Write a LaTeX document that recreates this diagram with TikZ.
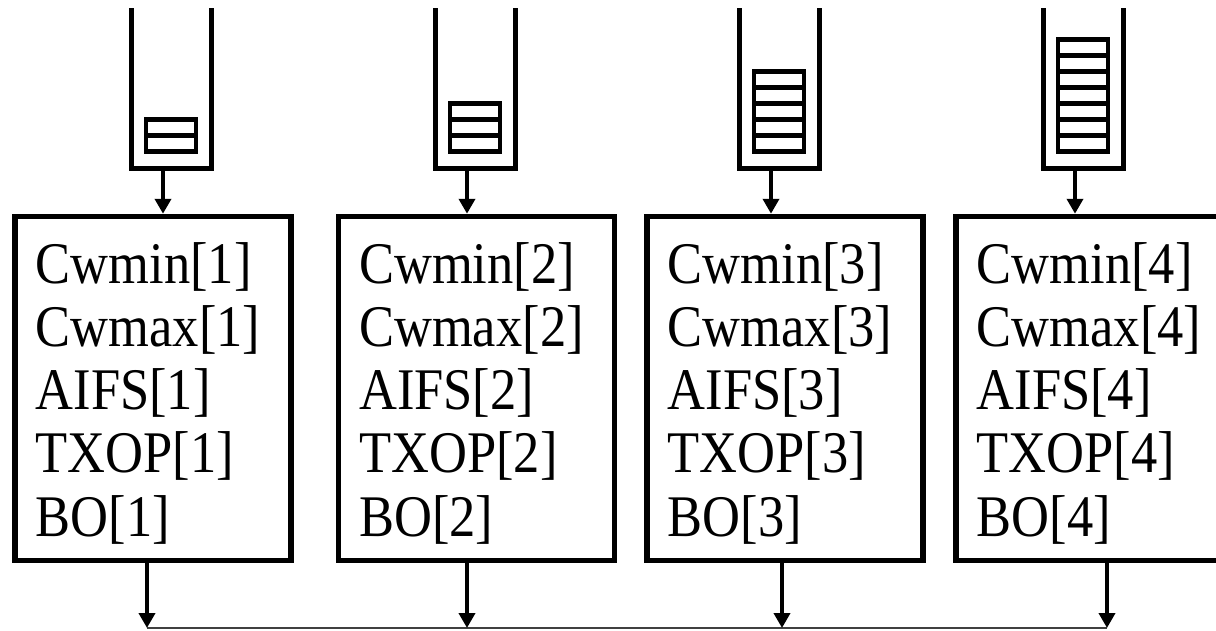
\documentclass[tikz,border=0pt]{standalone}
\usepackage{fontspec}
\setmainfont{Liberation Serif}
\usetikzlibrary{arrows.meta}

\tikzset{
  coda/.style={line width=5pt, line join=miter},
  pacchetto/.style={line width=4.5pt},
  blocco/.style={draw, line width=5.5pt, minimum width=276pt, minimum height=344pt, inner sep=0pt},
  param/.style={font=\fontsize{59}{63}\selectfont, xscale=0.89, inner sep=0pt, anchor=base west},
  freccia/.style={line width=4.5pt, -{Triangle[length=15pt,width=16pt]}},
}

\begin{document}
\begin{tikzpicture}[x=1pt,y=-1pt]
        \useasboundingbox (0,0) rectangle (1216,630);
        \clip (0,0) rectangle (1216,630);
        % Code
        \foreach \i/\cx/\n in {1/171/2,2/475/3,3/779/5,4/1083/7} {
            \draw[coda] (\cx-40,8) -- (\cx-40,168.5) -- (\cx+40,168.5) -- (\cx+40,8);
            \coordinate (q\i) at (\cx-8,168.5);
            \foreach \k in {1,...,\n}
                \draw[pacchetto] (\cx-25,167.5-16*\k) rectangle (\cx+25,151.5-16*\k);
        }
        % Blocchi
        \foreach \i/\bx in {1/153,2/476.5,3/785,4/1094} {
            \node[blocco] (ac\i) at (\bx,388.5) {};
            \foreach \k/\nome in {0/Cwmin,1/Cwmax,2/AIFS,3/TXOP,4/BO}
                \node[param] (p\i\k) at (\bx-117.5,283+63.3*\k) {\nome[\i]};
            \draw[freccia] (q\i) -- (q\i |- ac\i.north);
        }
        % Uscita
        \foreach \i/\ox in {1/147,2/467,3/782,4/1107}
            \coordinate (u\i) at (\ox,628);
        \draw[line width=1.5pt, black!75] (u1) -- (u4);
        \foreach \i in {1,...,4}
            \draw[freccia] (u\i |- ac\i.south) -- (u\i);
    \end{tikzpicture}
\end{document}
